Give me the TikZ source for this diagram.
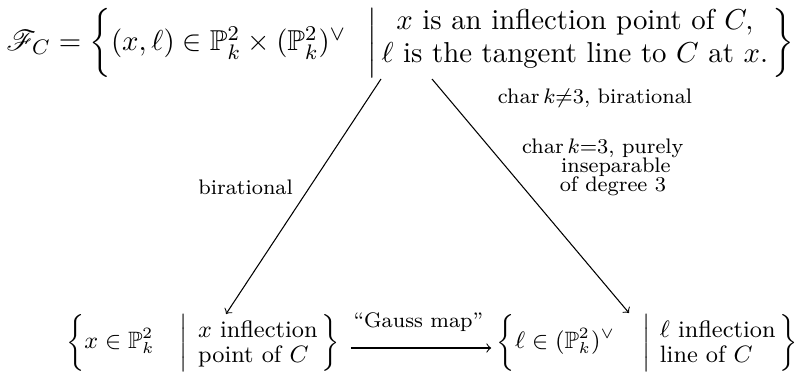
\documentclass[11pt,tikz,border=0pt]{standalone}
\usepackage{amsmath,amssymb,mathrsfs}
\begin{document}
\begin{tikzpicture}[x=0.38pt,y=-0.38pt,
  obj/.style={inner sep=0.5pt},
  botobj/.style={inner sep=1pt, font=\footnotesize},
  lab/.style={font=\scriptsize, inner sep=1pt},
  mapar/.style={->, line width=0.4pt}]
\useasboundingbox (0,0) rectangle (810,374);
\node[obj] (top) at (400.5,42) {\def\arraystretch{0.93}$\mathscr{F}_C = \biggl\{(x,\ell)\in\mathbb{P}^2_k\times(\mathbb{P}^2_k)^\vee \hspace{8pt}\bigg|\, \raisebox{1.5pt}{$\begin{array}{@{}c@{}} x \text{ is an inflection point of } C,\\ \ell \text{ is the tangent line to } C \text{ at } x.\end{array}$}\,\biggr\}$};
\node[botobj, anchor=east] (bl) at (343,343) {\def\arraystretch{0.86}$\left\{x\in\mathbb{P}^2_k \hspace{9.5pt}\middle|\hspace{4pt} \raisebox{-0.9pt}{$\begin{array}{@{}l@{}} x \text{ inflection}\\ \text{point of } C\end{array}$}\,\right\}$};
\node[botobj, anchor=east] (br) at (801,343) {\def\arraystretch{0.86}$\left\{\ell\in(\mathbb{P}^2_k)^\vee \hspace{10.5pt}\middle|\hspace{3.5pt} \raisebox{-0.9pt}{$\begin{array}{@{}l@{}} \ell\ \text{inflection}\\ \text{line of } C\end{array}$}\,\right\}$};
\coordinate (s1) at (381,79);
\coordinate (e1) at (226,314);
\coordinate (s2) at (432,79);
\coordinate (e2) at (629,313);
\draw[mapar] (s1) -- (e1);
\draw[mapar] (s2) -- (e2);
\draw[mapar, shorten <=3pt, shorten >=1pt] ([yshift=-1.9pt]bl.east) -- ([yshift=-1.9pt]br.west) node[midway, above=5pt, lab] (gl) {“Gauss map”};
\node[lab, anchor=east] (lb1) at (296,187) {birational};
\node[lab] (lr1) at (595,98) {$\operatorname{char}k{\neq}3$, birational};
\node[lab, align=left, anchor=north west] (lr2) at (519,136) {$\operatorname{char}k{=}3$, purely\\[-2.3pt]\hspace*{14.8pt}inseparable\\[-2.3pt]\hspace*{14.3pt}of degree 3};
\end{tikzpicture}
\end{document}
